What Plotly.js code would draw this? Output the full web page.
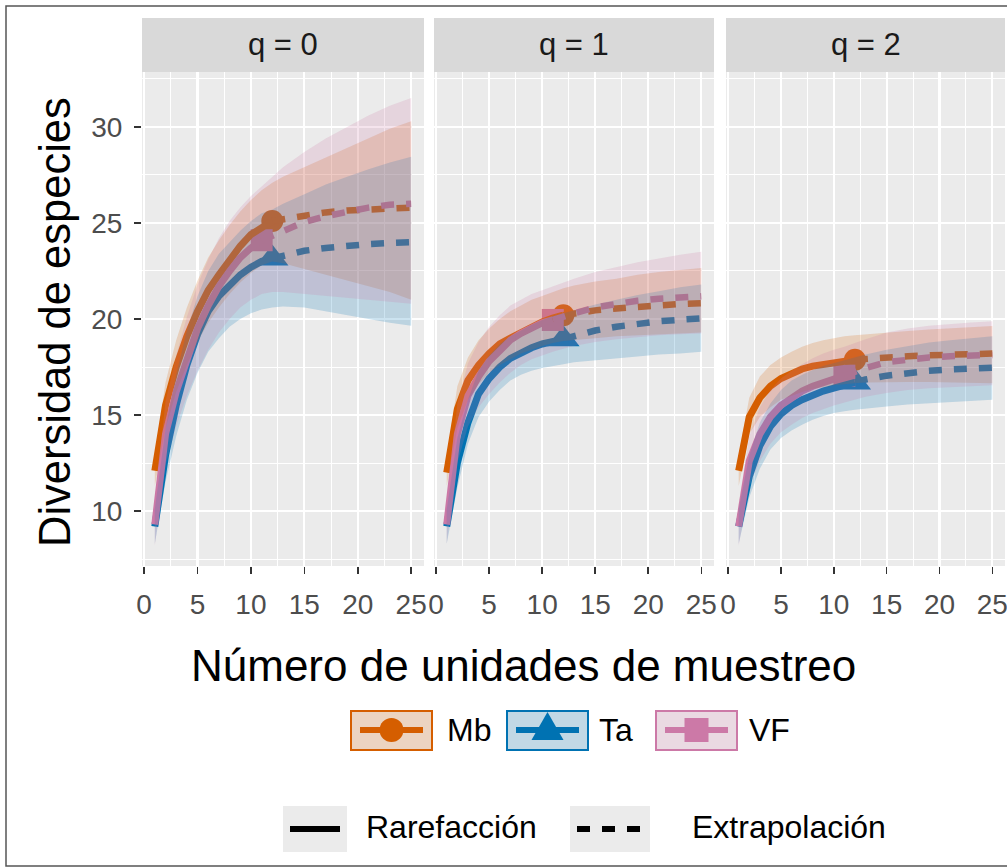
<!DOCTYPE html>
<html><head><meta charset="utf-8">
<script src="https://cdn.plot.ly/plotly-3.0.1.min.js"></script>
<style>html,body{margin:0;padding:0;background:#fff}#chart{width:1007px;height:868px}</style>
</head><body><div id="chart"></div>
<script>
// ---------- data ----------
const X = [1,2,3,4,5,6,7,8,9,10,11,12,13,15,17,19,21,23,25];
const sites = ['Mb','Ta','VF'];
const nObs = [12, 12, 11];
const orders = ['q = 0','q = 1','q = 2'];
const xTicks = [0,5,10,15,20,25];
const yTicks = [10,15,20,25,30];

// q = 0
const mb_q0_est = [12.1,15.5,17.5,19.1,20.4,21.5,22.3,23.1,23.8,24.4,24.8,25.1,25.2,25.4,25.55,25.65,25.7,25.75,25.8];
const mb_q0_lo  = [11.3,14.3,16.2,17.6,18.8,19.8,20.6,21.3,21.9,22.4,22.8,23.0,22.9,22.6,22.3,22.0,21.7,21.4,21.0];
const mb_q0_hi  = [12.9,16.7,18.9,20.6,22.0,23.2,24.1,24.9,25.6,26.2,26.7,27.1,27.4,27.9,28.4,28.9,29.4,29.9,30.3];
const ta_q0_est = [9.2,12.9,15.5,17.6,19.2,20.4,21.2,21.8,22.3,22.7,23.0,23.15,23.3,23.55,23.7,23.82,23.9,23.96,24.0];
const ta_q0_lo  = [8.3,11.5,13.9,15.8,17.2,18.3,19.0,19.6,20.0,20.3,20.5,20.6,20.65,20.6,20.4,20.2,20.0,19.8,19.65];
const ta_q0_hi  = [10.1,14.3,17.1,19.4,21.2,22.5,23.4,24.0,24.6,25.1,25.5,25.7,26.0,26.5,27.0,27.4,27.8,28.15,28.45];
const vf_q0_est = [9.3,14.0,16.2,18.0,19.5,20.7,21.7,22.5,23.2,23.7,24.1,24.35,24.6,25.05,25.35,25.6,25.8,25.95,26.0];
const vf_q0_lo  = [8.2,12.4,14.4,16.0,17.3,18.4,19.3,20.0,20.6,21.0,21.3,21.4,21.4,21.3,21.2,21.1,21.0,20.9,20.8];
const vf_q0_hi  = [10.5,15.7,18.1,20.1,21.8,23.1,24.2,25.1,25.8,26.4,26.9,27.4,27.9,28.7,29.4,30.0,30.6,31.1,31.5];
// q = 1
const mb_q1_est = [12.0,15.3,16.8,17.6,18.2,18.7,19.0,19.3,19.6,19.85,20.05,20.2,20.3,20.45,20.55,20.65,20.72,20.78,20.82];
const mb_q1_lo  = [11.3,14.3,15.8,16.6,17.2,17.6,17.9,18.2,18.4,18.6,18.75,18.85,18.9,19.0,19.1,19.15,19.2,19.25,19.3];
const mb_q1_hi  = [12.8,16.5,18.0,18.9,19.5,20.0,20.4,20.7,21.0,21.2,21.4,21.6,21.75,21.95,22.1,22.3,22.45,22.55,22.65];
const ta_q1_est = [9.2,12.5,14.6,16.1,16.9,17.5,17.95,18.25,18.5,18.7,18.85,18.95,19.1,19.4,19.6,19.75,19.88,19.96,20.03];
const ta_q1_lo  = [8.3,11.2,13.5,14.9,15.7,16.3,16.8,17.1,17.3,17.45,17.55,17.65,17.75,17.85,17.95,18.05,18.15,18.2,18.3];
const ta_q1_hi  = [10.1,13.8,15.8,17.3,18.1,18.7,19.1,19.4,19.7,19.95,20.15,20.3,20.45,20.75,21.0,21.25,21.45,21.65,21.8];
const vf_q1_est = [9.3,14.0,16.0,17.0,17.8,18.4,18.9,19.25,19.55,19.8,19.95,20.15,20.3,20.6,20.8,20.95,21.05,21.12,21.18];
const vf_q1_lo  = [8.3,12.5,14.4,15.4,16.1,16.7,17.2,17.6,17.9,18.1,18.3,18.45,18.6,18.8,18.95,19.05,19.15,19.2,19.25];
const vf_q1_hi  = [10.4,15.6,17.7,18.8,19.6,20.2,20.7,21.0,21.3,21.5,21.7,21.9,22.1,22.45,22.7,22.95,23.15,23.35,23.5];
// q = 2
const mb_q2_est = [12.1,14.9,15.9,16.5,16.9,17.2,17.4,17.55,17.65,17.75,17.82,17.88,17.93,18.0,18.06,18.11,18.15,18.18,18.2];
const mb_q2_lo  = [11.3,14.0,14.9,15.4,15.8,16.0,16.2,16.35,16.45,16.55,16.6,16.65,16.7,16.72,16.72,16.72,16.7,16.68,16.65];
const mb_q2_hi  = [12.9,15.9,17.0,17.6,18.0,18.3,18.55,18.75,18.9,19.0,19.1,19.15,19.2,19.3,19.38,19.45,19.52,19.58,19.63];
const ta_q2_est = [9.2,11.8,13.4,14.4,15.05,15.5,15.8,16.05,16.25,16.4,16.55,16.7,16.85,17.05,17.2,17.3,17.37,17.42,17.46];
const ta_q2_lo  = [8.3,10.7,12.2,13.2,13.8,14.2,14.5,14.75,14.95,15.1,15.2,15.28,15.35,15.45,15.55,15.62,15.68,15.74,15.8];
const ta_q2_hi  = [10.1,12.9,14.6,15.6,16.3,16.8,17.1,17.35,17.55,17.7,17.85,18.0,18.15,18.4,18.6,18.78,18.9,19.0,19.1];
const vf_q2_est = [9.2,12.6,14.0,14.9,15.5,15.9,16.25,16.5,16.7,16.9,17.05,17.25,17.45,17.75,17.9,18.0,18.06,18.1,18.13];
const vf_q2_lo  = [8.2,11.3,12.6,13.5,14.1,14.5,14.85,15.1,15.3,15.5,15.65,15.8,15.95,16.15,16.3,16.4,16.45,16.5,16.55];
const vf_q2_hi  = [10.4,13.9,15.4,16.3,16.9,17.3,17.65,17.95,18.2,18.4,18.55,18.75,18.95,19.3,19.5,19.65,19.75,19.82,19.88];

// ---------- styling ----------
const colors = ['#D55E00','#0072B2','#CC79A7'];
const rgbs = ['213,94,0','0,114,178','204,121,167'];
const symbols = ['circle','triangle-up','square'];
const msizes = [22, 28, 22];
const W = 1007, H = 868;
const px = v => v / W, py = v => 1 - v / H;
const panelX = [[142,424],[434,714],[726,1005]];
const PT = 72, PB = 566, ST = 18;
const FONT = 'Liberation Sans, Arial, sans-serif';

const DATA = [
  [[mb_q0_est,mb_q0_lo,mb_q0_hi],[ta_q0_est,ta_q0_lo,ta_q0_hi],[vf_q0_est,vf_q0_lo,vf_q0_hi]],
  [[mb_q1_est,mb_q1_lo,mb_q1_hi],[ta_q1_est,ta_q1_lo,ta_q1_hi],[vf_q1_est,vf_q1_lo,vf_q1_hi]],
  [[mb_q2_est,mb_q2_lo,mb_q2_hi],[ta_q2_est,ta_q2_lo,ta_q2_hi],[vf_q2_est,vf_q2_lo,vf_q2_hi]]
];

const traces = [];
orders.forEach((q, pi) => {
  const xa = pi === 0 ? 'x' : 'x' + (pi + 1);
  const ya = pi === 0 ? 'y' : 'y' + (pi + 1);
  // observed points
  sites.forEach((s, si) => {
    const [est] = DATA[pi][si];
    const k = X.indexOf(nObs[si]);
    traces.push({x:[X[k]], y:[est[k]], xaxis:xa, yaxis:ya, mode:'markers', name:s,
      marker:{symbol:symbols[si], size:msizes[si], color:colors[si], line:{width:0}},
      showlegend:false, hoverinfo:'skip'});
  });
  // rarefaction / extrapolation lines
  sites.forEach((s, si) => {
    const [est] = DATA[pi][si];
    const n = nObs[si];
    const rx = [], ry = [], ex = [], ey = [];
    X.forEach((xv, i) => {
      if (xv <= n) { rx.push(xv); ry.push(est[i]); }
      if (xv >= n) { ex.push(xv); ey.push(est[i]); }
    });
    traces.push({x:rx, y:ry, xaxis:xa, yaxis:ya, mode:'lines', name:s+' Rarefacción',
      line:{color:colors[si], width:7}, showlegend:false, hoverinfo:'skip'});
    traces.push({x:ex, y:ey, xaxis:xa, yaxis:ya, mode:'lines', name:s+' Extrapolación',
      line:{color:colors[si], width:6.5, dash:'13px,12px'}, showlegend:false, hoverinfo:'skip'});
  });
  // confidence ribbons
  sites.forEach((s, si) => {
    const [, lo, hi] = DATA[pi][si];
    traces.push({x:X.concat(X.slice().reverse()), y:hi.concat(lo.slice().reverse()),
      xaxis:xa, yaxis:ya, mode:'lines', fill:'toself', fillcolor:'rgba('+rgbs[si]+',0.2)',
      line:{width:0, color:'rgba(0,0,0,0)'}, showlegend:false, hoverinfo:'skip', name:s+' IC'});
  });
});

const layout = {
  width:W, height:H, margin:{l:0,r:0,t:0,b:0},
  paper_bgcolor:'#ffffff', plot_bgcolor:'#EBEBEB', showlegend:false,
  font:{family:FONT, color:'#000'},
  shapes:[], annotations:[]
};
orders.forEach((q, pi) => {
  const suf = pi === 0 ? '' : String(pi + 1);
  layout['xaxis' + suf] = {
    domain:[px(panelX[pi][0]), px(panelX[pi][1])], range:[-0.2, 26.2], anchor:'y'+suf,
    tickvals:xTicks, ticktext:xTicks.map(String), ticks:'outside', ticklen:7, tickwidth:1.5, tickcolor:'#333333',
    tickfont:{family:FONT, size:28, color:'#4D4D4D'}, ticklabelstandoff:6, ticklabeloverflow:'allow',
    showgrid:true, gridcolor:'#FFFFFF', gridwidth:2.2, zeroline:false, showline:false,
    minor:{dtick:2.5, tick0:0, showgrid:true, gridcolor:'#FFFFFF', gridwidth:1, ticks:''},
    fixedrange:true
  };
  layout['yaxis' + suf] = {
    domain:[py(PB), py(PT)], range:[7.14, 32.86], anchor:'x'+suf,
    tickvals:yTicks, ticktext:yTicks.map(String),
    ticks: pi === 0 ? 'outside' : '', ticklen:7, tickwidth:1.5, tickcolor:'#333333',
    showticklabels: pi === 0, tickfont:{family:FONT, size:28, color:'#4D4D4D'}, ticklabelstandoff:6,
    showgrid:true, gridcolor:'#FFFFFF', gridwidth:2.2, zeroline:false, showline:false,
    minor:{dtick:2.5, tick0:0, showgrid:true, gridcolor:'#FFFFFF', gridwidth:1, ticks:''},
    fixedrange:true
  };
  // strip
  layout.shapes.push({type:'rect', xref:'paper', yref:'paper', x0:px(panelX[pi][0]), x1:px(panelX[pi][1]),
    y0:py(PT), y1:py(ST), fillcolor:'#D9D9D9', line:{width:0}, layer:'below'});
  layout.annotations.push({xref:'paper', yref:'paper', x:px((panelX[pi][0]+panelX[pi][1])/2), y:py((ST+PT)/2),
    text:q, showarrow:false, font:{size:31, color:'#1A1A1A'}, xanchor:'center', yanchor:'middle'});
});

// axis titles
layout.annotations.push({xref:'paper', yref:'paper', x:px(523), y:py(665), text:'Número de unidades de muestreo',
  showarrow:false, font:{size:44, color:'#000'}, xanchor:'center', yanchor:'middle'});
layout.annotations.push({xref:'paper', yref:'paper', x:px(55), y:py(322), text:'Diversidad de especies',
  showarrow:false, textangle:-90, font:{size:43.5, color:'#000'}, xanchor:'center', yanchor:'middle'});

// legend row 1 (sites)
const keyBoxes = [[351,432],[507,588],[656,737]];
const keyLabelX = [445, 597, 747];
const KY0 = 711, KY1 = 750, KYC = 730;
sites.forEach((s, si) => {
  const [a, b] = keyBoxes[si];
  layout.shapes.push({type:'rect', xref:'paper', yref:'paper', x0:px(a), x1:px(b), y0:py(KY1), y1:py(KY0),
    fillcolor:'#F2F2F2', line:{width:0}});
  layout.shapes.push({type:'rect', xref:'paper', yref:'paper', x0:px(a), x1:px(b), y0:py(KY1), y1:py(KY0),
    fillcolor:'rgba('+rgbs[si]+',0.2)', line:{width:2, color:colors[si]}});
  layout.shapes.push({type:'line', xref:'paper', yref:'paper', x0:px(a+9), x1:px(b-9), y0:py(KYC), y1:py(KYC),
    line:{width:6, color:colors[si]}});
  const cx = (a + b) / 2;
  if (si === 0) {
    layout.shapes.push({type:'circle', xref:'paper', yref:'paper', x0:px(cx-12), x1:px(cx+12), y0:py(KYC+12), y1:py(KYC-12),
      fillcolor:colors[si], line:{width:0}});
  } else if (si === 1) {
    layout.shapes.push({type:'path', xref:'paper', yref:'paper',
      path:'M '+px(cx-16)+','+py(740)+' L '+px(cx+16)+','+py(740)+' L '+px(cx)+','+py(712)+' Z',
      fillcolor:colors[si], line:{width:0}});
  } else {
    layout.shapes.push({type:'rect', xref:'paper', yref:'paper', x0:px(cx-12), x1:px(cx+12), y0:py(KYC+12), y1:py(KYC-12),
      fillcolor:colors[si], line:{width:0}});
  }
  layout.annotations.push({xref:'paper', yref:'paper', x:px(keyLabelX[si]), y:py(KYC), text:s, showarrow:false,
    font:{size:32, color:'#000'}, xanchor:'left', yanchor:'middle'});
});

// legend row 2 (method)
const methods = ['Rarefacción','Extrapolación'];
const mBoxes = [[283,347],[570,650]];
const mLabelX = [364, 690];
const MY0 = 806, MY1 = 852, MYC = 829;
methods.forEach((m, mi) => {
  const [a, b] = mBoxes[mi];
  layout.shapes.push({type:'rect', xref:'paper', yref:'paper', x0:px(a), x1:px(b), y0:py(MY1), y1:py(MY0),
    fillcolor:'#EBEBEB', line:{width:0}});
  layout.shapes.push({type:'line', xref:'paper', yref:'paper', x0:px(a+7), x1:px(b-7), y0:py(MYC), y1:py(MYC),
    line:{width:6, color:'#000', dash: mi === 0 ? 'solid' : '13px,12px'}});
  layout.annotations.push({xref:'paper', yref:'paper', x:px(mLabelX[mi]), y:py(MYC-2), text:m, showarrow:false,
    font:{size:32, color:'#000'}, xanchor:'left', yanchor:'middle'});
});

// outer frame
layout.shapes.push({type:'rect', xref:'paper', yref:'paper', x0:px(6), x1:1.02, y0:py(866), y1:py(6),
  fillcolor:'rgba(0,0,0,0)', line:{width:1.5, color:'#555555'}});

Plotly.newPlot('chart', traces, layout, {staticPlot:true, displayModeBar:false});
</script></body></html>
